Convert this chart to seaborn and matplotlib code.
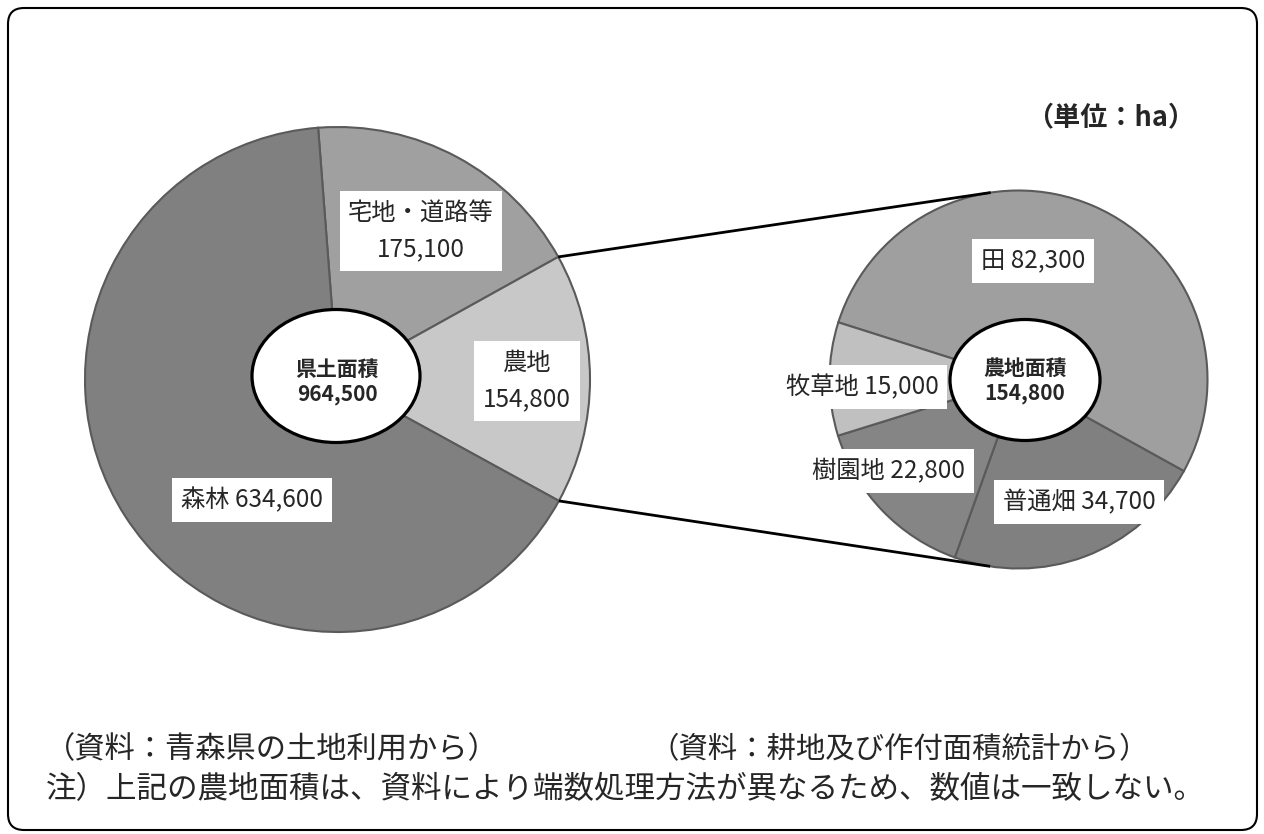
import matplotlib
matplotlib.use('Agg')
import matplotlib.pyplot as plt
import numpy as np
import seaborn as sns
from matplotlib.patches import Ellipse, FancyBboxPatch

sns.set_theme(style='white')
plt.rcParams['font.family'] = ['Noto Sans CJK JP', 'DejaVu Sans']

# data (unit: ha)
land_labels = ['宅地・道路等', '農地', '森林']
land_values = [175100, 154800, 634600]
land_total = 964500
farm_labels = ['田', '普通畑', '樹園地', '牧草地']
farm_values = [82300, 34700, 22800, 15000]
farm_total = 154800

land_colors = ['#a0a0a0', '#c8c8c8', '#808080']
farm_colors = ['#9f9f9f', '#808080', '#858585', '#c0c0c0']

W, H = 1264, 834
fig = plt.figure(figsize=(W / 100, H / 100), dpi=100)
ax = fig.add_axes([0, 0, 1, 1])


def px(x, y):
    # pixel position (y from top) -> data coords
    return x, H - y


left_c, left_r = px(337.5, 379.5), 252.5
right_c, right_r = px(1018.5, 379.5), 189

wprops = dict(edgecolor='#5a5a5a', linewidth=1.5)
lw_, _ = ax.pie(land_values, colors=land_colors, center=left_c, radius=left_r,
                startangle=94.4, counterclock=False, wedgeprops=wprops)
rw_, _ = ax.pie(farm_values, colors=farm_colors, center=right_c, radius=right_r,
                startangle=162.4, counterclock=False, wedgeprops=wprops)
ax.set_xlim(0, W)
ax.set_ylim(0, H)
ax.set_aspect('equal')
ax.axis('off')

# connector lines: from the 農地 wedge edges to tangent points of the right pie
farm_w = lw_[1]
for ang, sign in [(farm_w.theta2, -1), (farm_w.theta1, 1)]:
    p = np.array(left_c) + left_r * np.array([np.cos(np.radians(ang)), np.sin(np.radians(ang))])
    v = p - np.array(right_c)
    d = np.hypot(*v)
    base = np.degrees(np.arctan2(v[1], v[0]))
    t = np.radians(base + sign * np.degrees(np.arccos(right_r / d)))
    q = np.array(right_c) + right_r * np.array([np.cos(t), np.sin(t)])
    ax.plot([p[0], q[0]], [p[1], q[1]], color='black', lw=2.0, zorder=1,
            solid_capstyle='butt')

box = dict(boxstyle='square,pad=0.35', facecolor='white', edgecolor='none')


def label(x, y, s, size=17.5, **kw):
    ax.text(*px(x, y), s, ha='center', va='center', fontsize=size,
            multialignment='center', linespacing=1.5, zorder=4, **kw)


label(421, 231, f'{land_labels[0]}\n{land_values[0]:,}', bbox=box)
label(527, 381, f'{land_labels[1]}\n{land_values[1]:,}', bbox=box)
label(252, 500, f'{land_labels[2]} {land_values[2]:,}', bbox=box)
label(1033, 261, f'{farm_labels[0]} {farm_values[0]:,}', bbox=box)
label(1079, 502, f'{farm_labels[1]} {farm_values[1]:,}', bbox=box)
label(889, 471, f'{farm_labels[2]} {farm_values[2]:,}', bbox=box)
label(862, 387, f'{farm_labels[3]} {farm_values[3]:,}', bbox=box)

# centre ellipses
ax.add_patch(Ellipse(px(336, 376), 168, 133, facecolor='white', edgecolor='black',
                     lw=2.3, zorder=5))
ax.add_patch(Ellipse(px(1025, 380), 150, 121, facecolor='white', edgecolor='black',
                     lw=2.3, zorder=5))
ax.text(*px(337, 382), f'県土面積\n{land_total:,}', ha='center', va='center',
        fontsize=15, fontweight='bold', linespacing=1.2, zorder=6)
ax.text(*px(1025, 381), f'農地面積\n{farm_total:,}', ha='center', va='center',
        fontsize=15, fontweight='bold', linespacing=1.2, zorder=6)

# unit and notes
ax.text(*px(1111, 117), '（単位：ha）', ha='center', va='center', fontsize=19.5,
        fontweight='bold')
ax.text(*px(45, 750), '（資料：青森県の土地利用から）', ha='left', va='center', fontsize=21.8)
ax.text(*px(650, 750), '（資料：耕地及び作付面積統計から）', ha='left', va='center', fontsize=21.2)
ax.text(*px(46, 790), '注）上記の農地面積は、資料により端数処理方法が異なるため、数値は一致しない。',
        ha='left', va='center', fontsize=22)

# rounded frame
ax.add_patch(FancyBboxPatch((8, H - 830), 1249, 822,
                            boxstyle='round,pad=0,rounding_size=16',
                            fill=False, edgecolor='black', lw=1.5, clip_on=False))

fig.savefig('out.png', dpi=100)
